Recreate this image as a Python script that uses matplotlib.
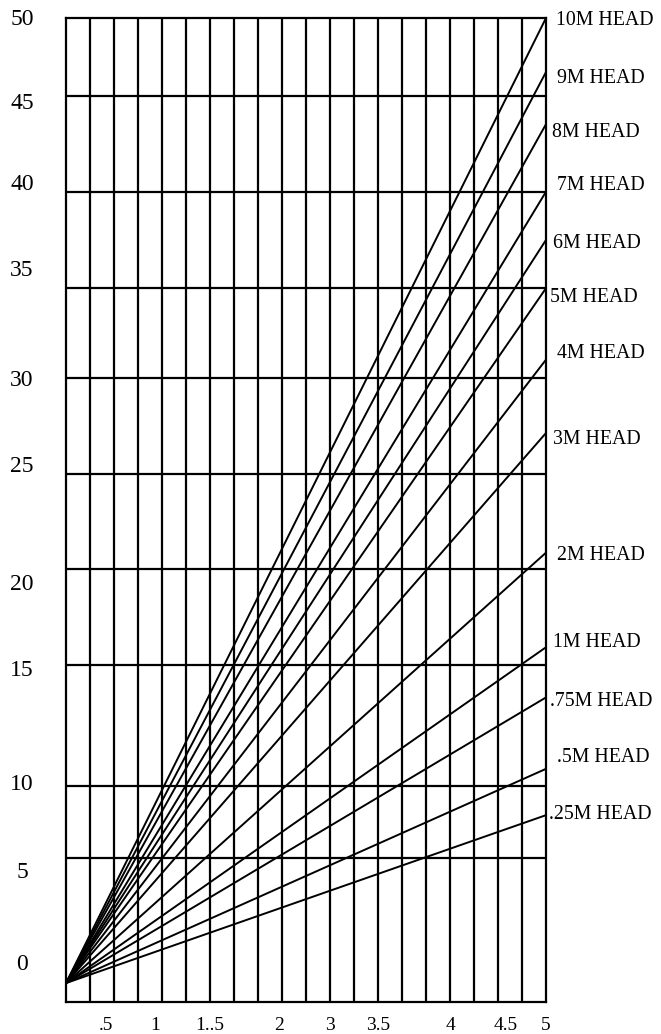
import matplotlib
matplotlib.use("Agg")
import matplotlib.pyplot as plt

# ---- data ----
heads = ["10M HEAD", "9M HEAD", "8M HEAD", "7M HEAD", "6M HEAD", "5M HEAD",
         "4M HEAD", "3M HEAD", "2M HEAD", "1M HEAD", ".75M HEAD", ".5M HEAD",
         ".25M HEAD"]
end_values = [50.0, 47.2, 44.5, 41.0, 38.5, 36.0, 32.3, 28.5, 22.3, 17.4,
              14.8, 11.1, 8.7]          # value reached at x = 5
x_start, x_end = 0.0, 5.0

x_tick_labels = [".5", "1", "1..5", "2", "3", "3.5", "4", "4.5", "5"]
x_tick_pos = [0.417, 0.927, 1.5, 2.22, 2.75, 3.25, 4.0, 4.58, 5.0]

y_tick_labels = ["50", "45", "40", "35", "30", "25", "20", "15", "10", "5", "0"]
y_tick_pos = [50.05, 45.7, 41.5, 37.05, 31.35, 26.9, 20.8, 16.3, 10.4, 5.85, 1.1]

h_grid = [45.96, 41.0, 36.0, 31.35, 26.4, 21.45, 16.5, 10.2, 6.5]
v_grid_step = 0.25

# label layout (positions next to the right edge)
label_y = [50.0, 47.0, 44.2, 41.45, 38.45, 35.65, 32.75, 28.3, 22.3, 17.8,
           14.7, 11.8, 8.86]
label_dx_px = [10, 11, 6, 11, 7, 4, 11, 7, 11, 7, 4, 11, 3]

# ---- figure ----
W, H, DPI = 661, 1034, 100
fig = plt.figure(figsize=(W / DPI, H / DPI), dpi=DPI)
left, right, top, bottom = 66, 546, 18, 1002
ax = fig.add_axes([left / W, 1 - bottom / H, (right - left) / W, (bottom - top) / H])
ymin, ymax = -0.98, 50.0
ax.set_xlim(x_start, x_end)
ax.set_ylim(ymin, ymax)
ax.set_xticks([])
ax.set_yticks([])
for s in ax.spines.values():
    s.set_linewidth(1.6)
    s.set_color("black")

LW = 1.6
n_cols = int(round((x_end - x_start) / v_grid_step))
for i in range(1, n_cols):
    ax.axvline(x_start + i * v_grid_step, color="black", lw=LW)
for yv in h_grid:
    ax.axhline(yv, color="black", lw=LW)

for v in end_values:
    ax.plot([x_start, x_end], [0, v], color="black", lw=1.4, solid_capstyle="butt",
            clip_on=False)

serif = ["Liberation Serif", "DejaVu Serif"]
for name, ly, dx in zip(heads, label_y, label_dx_px):
    ax.annotate(name, xy=(x_end, ly), xytext=(dx, 0), textcoords="offset pixels",
                ha="left", va="center_baseline", fontsize=14.3, family=serif,
                annotation_clip=False)

for lab, yp in zip(y_tick_labels, y_tick_pos):
    ax.annotate(lab, xy=(0, yp), xycoords=("axes fraction", "data"),
                xytext=(22 - left, 0), textcoords="offset pixels",
                ha="center", va="center_baseline", fontsize=17, family=serif,
                annotation_clip=False)

for lab, xp in zip(x_tick_labels, x_tick_pos):
    ax.annotate(lab, xy=(xp, 0), xycoords=("data", "axes fraction"),
                xytext=(0, -27.5), textcoords="offset pixels",
                ha="center", va="baseline", fontsize=14, family=serif,
                annotation_clip=False)

fig.savefig("out.png", dpi=DPI)
